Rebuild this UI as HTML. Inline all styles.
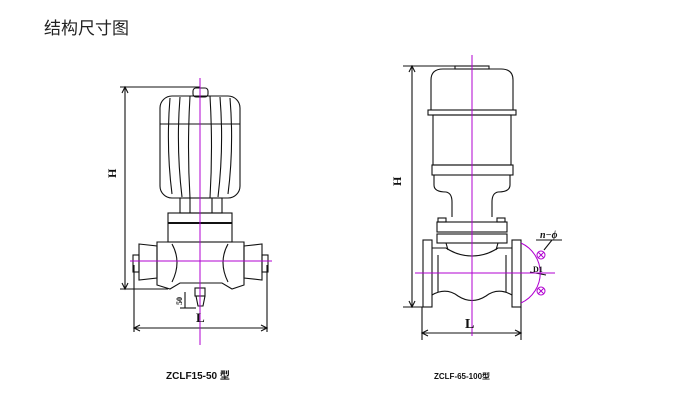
<!DOCTYPE html>
<html><head><meta charset="utf-8"><style>
html,body{margin:0;padding:0;background:#fff;width:692px;height:416px;overflow:hidden}
</style></head><body>
<svg width="692" height="416" viewBox="0 0 692 416" xmlns="http://www.w3.org/2000/svg" font-family="Liberation Serif, serif">
<text x="44" y="34" font-family="Liberation Sans, Noto Sans CJK SC, sans-serif" font-size="17" fill="#222">结构尺寸图</text>
<g fill="none" stroke="#111" stroke-width="1.1">
<!-- LEFT VALVE -->
<line x1="125" y1="87" x2="125" y2="289"/>
<path d="M122,93 L125,87 L128,93 M122,283 L125,289 L128,283" />
<line x1="120" y1="87" x2="200" y2="87"/>
<line x1="120" y1="289" x2="168" y2="289"/>
<rect x="193" y="88" width="15" height="9" rx="3"/>
<rect x="160" y="96" width="80" height="102" rx="12"/>
<line x1="160" y1="124" x2="240" y2="124"/>
<path d="M170,98 Q166,147 172,194 M180,97 Q176,147 182,197 M190,96 Q187,147 190,198 M210,96 Q213,147 210,198 M220,97 Q224,147 218,197 M230,98 Q234,147 228,194"/>
<rect x="180" y="198" width="42" height="15"/>
<line x1="190" y1="198" x2="190" y2="213"/><line x1="212" y1="198" x2="212" y2="213"/>
<rect x="168" y="213" width="64" height="29"/>
<line x1="168" y1="223" x2="232" y2="223" stroke-width="2"/>
<path d="M157,242 H244 V285 L232,289 L222,283 H180 L170,289 L157,285 Z"/>
<path d="M172,244 Q182,262 172,282 M228,244 Q218,262 228,282"/>
<path d="M139,244 L157,246 V278 L139,280 Z M244,246 L262,244 V280 L244,278 Z"/>
<rect x="133" y="255" width="6" height="17"/><rect x="262" y="255" width="6" height="17"/>
<rect x="195" y="288" width="10" height="8"/><path d="M196,296 L198,306 H203 L205,296"/>
<line x1="185" y1="292" x2="185" y2="308"/><line x1="180" y1="308" x2="196" y2="308"/>
<line x1="134" y1="265" x2="134" y2="332"/><line x1="267" y1="265" x2="267" y2="332"/>
<line x1="134" y1="328" x2="267" y2="328"/>
<path d="M140,325 L134,328 L140,331 M261,325 L267,328 L261,331"/>
<!-- RIGHT VALVE -->
<line x1="412" y1="66" x2="412" y2="307"/>
<path d="M409,72 L412,66 L415,72 M409,301 L412,307 L415,301"/>
<line x1="403" y1="66" x2="472" y2="66"/><line x1="403" y1="307" x2="432" y2="307"/>
<rect x="455" y="66" width="34" height="3"/>
<path d="M431,110 V80 Q431,69 443,69 H501 Q513,69 513,80 V110"/>
<rect x="428" y="110" width="88" height="5"/>
<rect x="433" y="115" width="78" height="50"/>
<rect x="432" y="165" width="81" height="10"/>
<path d="M434,175 V185 Q434,192 446,192 Q452,193 452,202 V217 M510,175 V185 Q510,192 498,192 Q492,193 492,202 V217"/>
<rect x="438" y="218" width="8" height="4"/><rect x="497" y="218" width="8" height="4"/>
<rect x="437" y="222" width="70" height="10"/>
<rect x="437" y="234" width="70" height="9"/>
<rect x="423" y="240" width="9" height="67"/><rect x="512" y="240" width="9" height="67"/>
<path d="M432,248 H446 Q458,256 472,256 Q486,256 498,248 H512 M432,295 Q446,287 458,296 Q472,305 486,296 Q498,287 512,295"/>
<path d="M438,255 V292 M506,255 V292 M446,243 L448,250 M498,243 L496,250"/>
<line x1="422" y1="307" x2="422" y2="340"/><line x1="521" y1="307" x2="521" y2="340"/>
<line x1="422" y1="333" x2="521" y2="333"/>
<path d="M428,330 L422,333 L428,336 M515,330 L521,333 L515,336"/>
<line x1="536" y1="240" x2="562" y2="240"/><line x1="552" y1="240" x2="544" y2="250"/>
<line x1="530" y1="272" x2="546" y2="275"/>
</g>
<g fill="none" stroke="#b000d0" stroke-width="1">
<line x1="200" y1="78" x2="200" y2="345"/>
<line x1="130" y1="261" x2="272" y2="261"/>
<line x1="472" y1="55" x2="472" y2="336"/>
<line x1="415" y1="273" x2="555" y2="273"/>
<path d="M521,243 A33,33 0 0 1 521,303"/>
<circle cx="541" cy="255" r="4"/><circle cx="541" cy="291" r="4"/>
<path d="M538,252 L544,258 M544,252 L538,258 M538,288 L544,294 M544,288 L538,294"/>
</g>
<g fill="#111">
<text x="116" y="178" font-size="12" font-weight="bold" transform="rotate(-90 116 178)">H</text>
<text x="401" y="186" font-size="12" font-weight="bold" transform="rotate(-90 401 186)">H</text>
<text x="182" y="305" font-size="8" font-weight="bold" transform="rotate(-90 182 305)">50</text>
<text x="196" y="322" font-size="13" font-weight="bold">L</text>
<text x="465" y="328" font-size="14" font-weight="bold">L</text>
<text x="540" y="238" font-size="10" font-style="italic" font-weight="bold">n−ϕ</text>
<text x="533" y="272" font-size="8" font-weight="bold">D1</text>
<text x="166" y="379" font-size="10" font-weight="bold" font-family="Liberation Sans, Noto Sans CJK SC, sans-serif">ZCLF15-50 型</text>
<text x="434" y="379" font-size="8" font-weight="bold" font-family="Liberation Sans, Noto Sans CJK SC, sans-serif">ZCLF-65-100型</text>
</g>
</svg>
</body></html>
